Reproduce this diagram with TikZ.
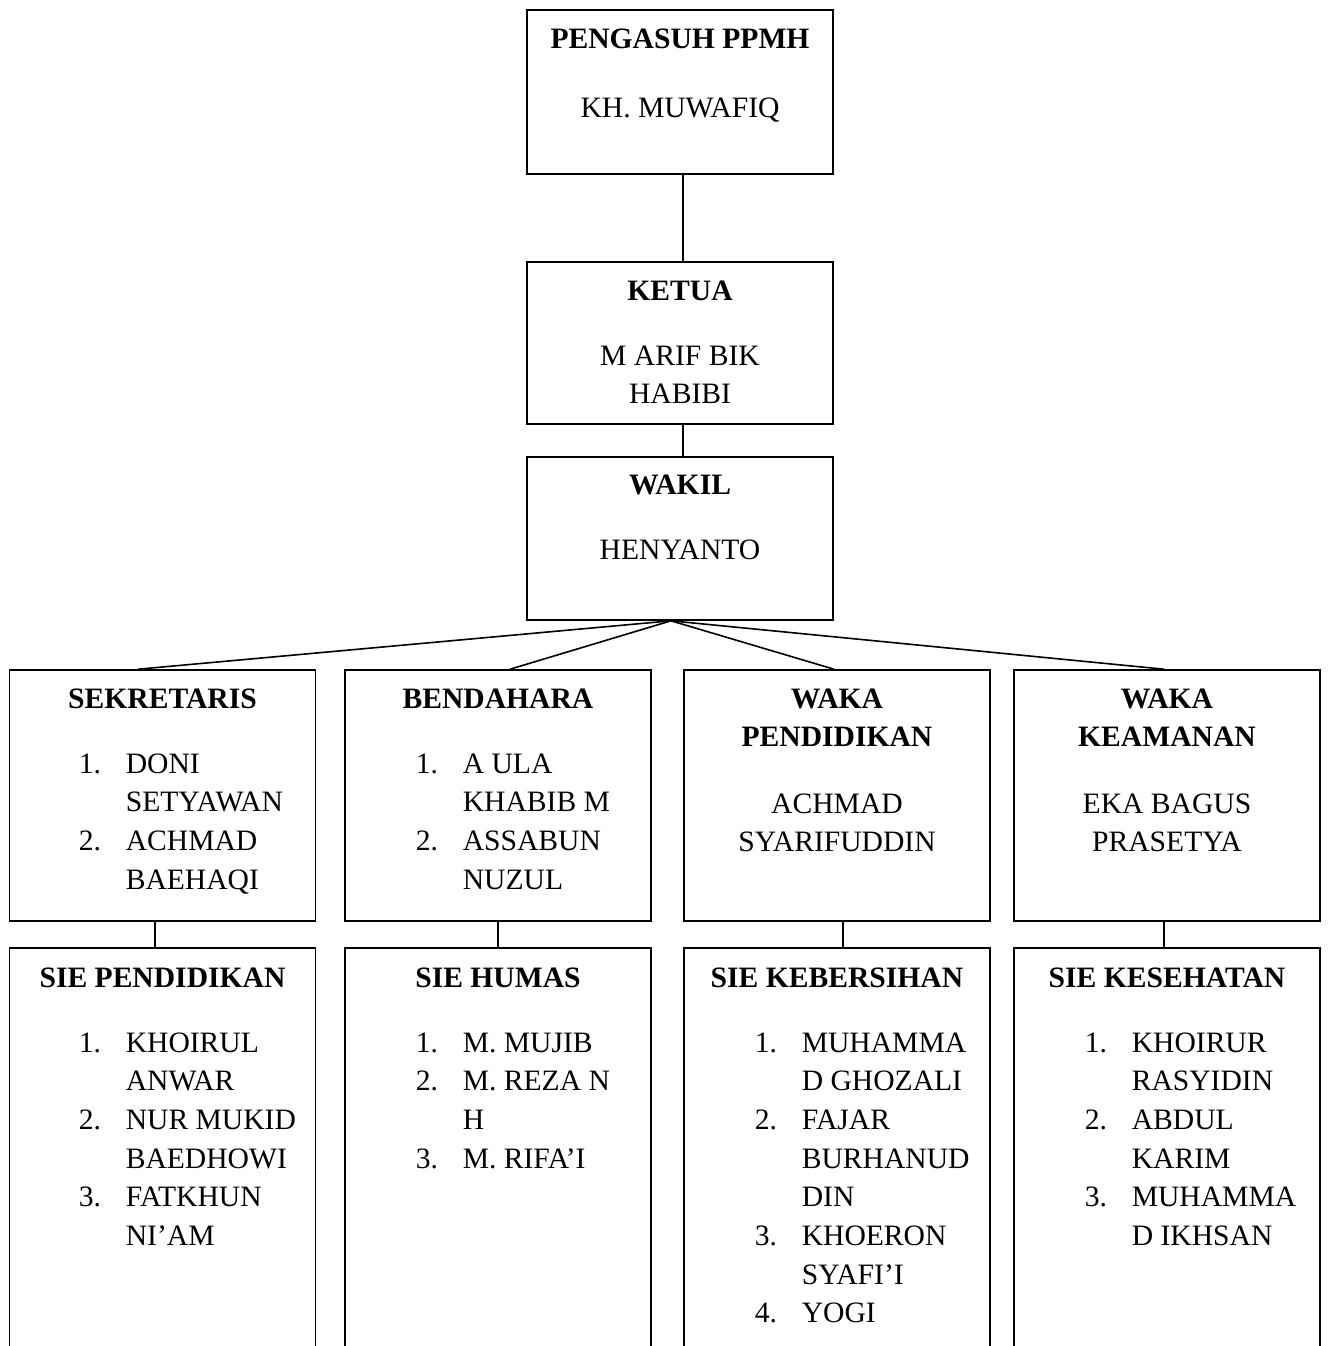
\documentclass[tikz,border=0pt]{standalone}
\usepackage{fontspec}
\setmainfont{Liberation Serif}
\begin{document}
\begin{tikzpicture}[x=0.5pt,y=-0.5pt,line width=0.8pt,
    font=\fontsize{14.8}{19.35}\selectfont,
    orgbox/.style={draw,inner sep=0pt,minimum width=153pt},
    txt/.style={inner sep=0pt,anchor=base},
    lst/.style={inner sep=0pt,anchor=base west}]
    \useasboundingbox (0,0) rectangle (1328,1346);
    \clip (0,0) rectangle (1328,1346);
    \node[orgbox,minimum height=82pt] (pengasuh) at (680,92) {};
    \node[orgbox,minimum height=81pt] (ketua) at (680,343) {};
    \node[orgbox,minimum height=81.5pt] (wakil) at (680,538.5) {};
    \node[orgbox,minimum height=125.5pt] (sekretaris) at (162.5,795.5) {};
    \node[orgbox,minimum height=125.5pt] (bendahara) at (498,795.5) {};
    \node[orgbox,minimum height=125.5pt] (wakapend) at (837,795.5) {};
    \node[orgbox,minimum height=125.5pt] (wakakeam) at (1167,795.5) {};
    \node[orgbox,minimum height=226pt] (siependidikan) at (162.5,1174) {};
    \node[orgbox,minimum height=226pt] (siehumas) at (498,1174) {};
    \node[orgbox,minimum height=226pt] (siekebersihan) at (837,1174) {};
    \node[orgbox,minimum height=226pt] (siekesehatan) at (1167,1174) {};
    \draw ([xshift=1.5pt]pengasuh.south) -- ([xshift=1.5pt]ketua.north);
    \draw ([xshift=1.5pt]ketua.south) -- ([xshift=1.5pt]wakil.north);
    \coordinate (apex) at ([xshift=-4.5pt]wakil.south);
    \draw (apex) -- ([xshift=-12.25pt]sekretaris.north);
    \draw (apex) -- ([xshift=6pt]bendahara.north);
    \draw (apex) -- ([xshift=-1.5pt]wakapend.north);
    \draw (apex) -- ([xshift=-1.5pt]wakakeam.north);
    \draw ([xshift=-3.75pt]sekretaris.south) -- ([xshift=-3.75pt]siependidikan.north);
    \draw (bendahara.south) -- (siehumas.north);
    \draw ([xshift=3pt]wakapend.south) -- ([xshift=3pt]siekebersihan.north);
    \draw ([xshift=-1.5pt]wakakeam.south) -- ([xshift=-1.5pt]siekesehatan.north);
    \node[txt] (t-pengasuh) at (680,48) {\textbf{PENGASUH PPMH}};
    \node[txt] (n-pengasuh) at (680,117) {KH. MUWAFIQ};
    \node[txt] (t-ketua) at (680,300) {\textbf{KETUA}};
    \node[txt] (n-ketua) at (680,365) {\begin{tabular}[t]{@{}c@{}}M ARIF BIK\\HABIBI\end{tabular}};
    \node[txt] (t-wakil) at (680,494) {\textbf{WAKIL}};
    \node[txt] (n-wakil) at (680,559) {HENYANTO};
    \node[txt] (t-sekretaris) at (162.5,708) {\textbf{SEKRETARIS}};
    \node[lst] (n-sekretaris) at (78,773) {\begin{tabular}[t]{@{}p{23.5pt}@{}l@{}}
        1. & DONI\\ & SETYAWAN\\ 2. & ACHMAD\\ & BAEHAQI\end{tabular}};
    \node[txt] (t-bendahara) at (498,708) {\textbf{BENDAHARA}};
    \node[lst] (n-bendahara) at (415,773) {\begin{tabular}[t]{@{}p{23.5pt}@{}l@{}}
        1. & A ULA\\ & KHABIB M\\ 2. & ASSABUN\\ & NUZUL\end{tabular}};
    \node[txt] (t-wakapend) at (837,708) {\begin{tabular}[t]{@{}c@{}}\textbf{WAKA}\\\textbf{PENDIDIKAN}\end{tabular}};
    \node[txt] (n-wakapend) at (837,813) {\begin{tabular}[t]{@{}c@{}}ACHMAD\\SYARIFUDDIN\end{tabular}};
    \node[txt] (t-wakakeam) at (1167,708) {\begin{tabular}[t]{@{}c@{}}\textbf{WAKA}\\\textbf{KEAMANAN}\end{tabular}};
    \node[txt] (n-wakakeam) at (1167,813) {\begin{tabular}[t]{@{}c@{}}EKA BAGUS\\PRASETYA\end{tabular}};
    \node[txt] (t-siependidikan) at (162.5,987) {\textbf{SIE PENDIDIKAN}};
    \node[lst] (n-siependidikan) at (78,1052) {\begin{tabular}[t]{@{}p{23.5pt}@{}l@{}}
        1. & KHOIRUL\\ & ANWAR\\ 2. & NUR MUKID\\ & BAEDHOWI\\ 3. & FATKHUN\\ & NI’AM\end{tabular}};
    \node[txt] (t-siehumas) at (498,987) {\textbf{SIE HUMAS}};
    \node[lst] (n-siehumas) at (415,1052) {\begin{tabular}[t]{@{}p{23.5pt}@{}l@{}}
        1. & M. MUJIB\\ 2. & M. REZA N\\ & H\\ 3. & M. RIFA’I\end{tabular}};
    \node[txt] (t-siekebersihan) at (837,987) {\textbf{SIE KEBERSIHAN}};
    \node[lst] (n-siekebersihan) at (754,1052) {\begin{tabular}[t]{@{}p{23.5pt}@{}l@{}}
        1. & MUHAMMA\\ & D GHOZALI\\ 2. & FAJAR\\ & BURHANUD\\ & DIN\\ 3. & KHOERON\\ & SYAFI’I\\ 4. & YOGI\end{tabular}};
    \node[txt] (t-siekesehatan) at (1167,987) {\textbf{SIE KESEHATAN}};
    \node[lst] (n-siekesehatan) at (1084,1052) {\begin{tabular}[t]{@{}p{23.5pt}@{}l@{}}
        1. & KHOIRUR\\ & RASYIDIN\\ 2. & ABDUL\\ & KARIM\\ 3. & MUHAMMA\\ & D IKHSAN\end{tabular}};
\end{tikzpicture}
\end{document}
